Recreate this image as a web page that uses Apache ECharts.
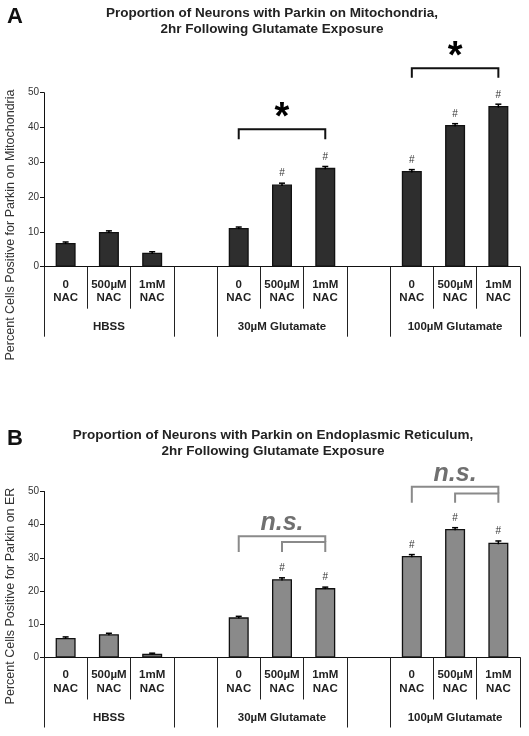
<!DOCTYPE html>
<html><head><meta charset="utf-8">
<script src="https://cdn.jsdelivr.net/npm/echarts/dist/echarts.min.js"></script>
<style>html,body{margin:0;padding:0;background:#fff}#c{width:529px;height:736px}</style>
</head><body><div id="c"></div>
<script>
// ---- data ----
const categories = ['0\nNAC','500µM\nNAC','1mM\nNAC','','0\nNAC','500µM\nNAC','1mM\nNAC','','0\nNAC','500µM\nNAC','1mM\nNAC'];
const groupLabels = ['','HBSS','','','','30µM Glutamate','','','','100µM Glutamate',''];
const groupBoundaryIdx = [0,3,4,7,8];
const yMin = 0, yMax = 50, yStep = 10;

const mitoValues = [6.8, 10.0, 4.0, null, 11.1, 23.6, 28.4, null, 27.5, 40.7, 46.2];
const mitoErrors = [0.3, 0.3, 0.3, null, 0.3, 0.4, 0.4, null, 0.4, 0.4, 0.5];
const mitoHash   = [0, 0, 0, 0, 0, 1, 1, 0, 1, 1, 1];

const erValues = [5.9, 7.0, 1.1, null, 12.1, 23.6, 20.9, null, 30.6, 38.7, 34.6];
const erErrors = [0.3, 0.3, 0.2, null, 0.3, 0.4, 0.3, null, 0.4, 0.4, 0.5];
const erHash   = [0, 0, 0, 0, 0, 1, 1, 0, 1, 1, 1];

// significance: [from, to, bracketY, legEndY]
const mitoStars = [[4, 6, 39.5, 36.6], [8, 10, 57.0, 54.3]];
// n.s.: [outerFrom, innerFrom, innerTo, outerY, innerY, legEndY]
const erNS = [[4, 5, 6, 36.5, 34.8, 31.8], [8, 9, 10, 51.4, 49.4, 46.6]];

const titleA = 'Proportion of Neurons with Parkin on Mitochondria,\n2hr Following Glutamate Exposure';
const titleB = 'Proportion of Neurons with Parkin on Endoplasmic Reticulum,\n2hr Following Glutamate Exposure';
const yNameA = 'Percent Cells Positive for Parkin on Mitochondria';
const yNameB = 'Percent Cells Positive for Parkin on ER';

// ---- chart ----
const FF = "'Liberation Sans', Arial, Helvetica, sans-serif";
const chart = echarts.init(document.getElementById('c'), null, {renderer: 'canvas'});

function xAxesFor(gi) {
  return [
    {
      type: 'category', gridIndex: gi, position: 'bottom', data: categories,
      axisLine: {show: true, onZero: false, lineStyle: {color: '#111', width: 1}},
      axisTick: {show: true, interval: 0, length: 42, lineStyle: {color: '#222', width: 1}},
      axisLabel: {show: true, interval: 0, margin: 11, fontFamily: FF, fontSize: 11.5, fontWeight: 'bold', color: '#222', lineHeight: 13.5},
      splitLine: {show: false}
    },
    {
      type: 'category', gridIndex: gi, position: 'bottom', data: groupLabels,
      axisLine: {show: false},
      axisTick: {show: true, interval: function (i) { return groupBoundaryIdx.indexOf(i) >= 0; }, length: 70, lineStyle: {color: '#222', width: 1}},
      axisLabel: {show: true, interval: 0, margin: 54, fontFamily: FF, fontSize: 11.5, fontWeight: 'bold', color: '#222'},
      splitLine: {show: false}
    }
  ];
}
function yAxisFor(gi) {
  return {
    type: 'value', gridIndex: gi, min: yMin, max: yMax, interval: yStep,
    axisLine: {show: true, lineStyle: {color: '#111', width: 1}},
    axisTick: {show: true, inside: false, length: 4, lineStyle: {color: '#111'}},
    axisLabel: {margin: 5, fontFamily: FF, fontSize: 10, color: '#333'},
    splitLine: {show: false}
  };
}
function barSeries(gi, values, hash, fill) {
  return {
    type: 'bar', xAxisIndex: gi * 2, yAxisIndex: gi, barWidth: 20,
    data: values.map(v => v == null ? '-' : v),
    itemStyle: {color: fill, borderColor: '#111', borderWidth: 1.3},
    label: {show: true, position: 'top', distance: 6, fontFamily: FF, fontSize: 10, color: '#333',
      formatter: p => hash[p.dataIndex] ? '#' : ''},
    emphasis: {disabled: true}, silent: true
  };
}
function errSeries(gi, values, errors) {
  const d = [];
  values.forEach((v, i) => { if (v != null) d.push([i, v, errors[i]]); });
  return {
    type: 'custom', xAxisIndex: gi * 2, yAxisIndex: gi, data: d, silent: true, z: 5,
    encode: {x: 0, y: 1},
    renderItem: function (params, api) {
      const i = api.value(0), v = api.value(1), e = api.value(2);
      const hi = api.coord([i, v + e]), lo = api.coord([i, v - e]);
      const st = {stroke: '#000', lineWidth: 1.5};
      return {type: 'group', children: [
        {type: 'line', shape: {x1: hi[0], y1: hi[1], x2: lo[0], y2: lo[1]}, style: st},
        {type: 'line', shape: {x1: hi[0] - 3, y1: hi[1], x2: hi[0] + 3, y2: hi[1]}, style: st}
      ]};
    }
  };
}
const starSeries = {
  type: 'custom', xAxisIndex: 0, yAxisIndex: 0, clip: false, silent: true, z: 6,
  data: mitoStars.map(s => [s[0], s[2]]), encode: {x: 0, y: 1},
  renderItem: function (params, api) {
    const s = mitoStars[params.dataIndex];
    const aL = api.coord([s[0], s[3]]), a = api.coord([s[0], s[2]]);
    const b = api.coord([s[1], s[2]]), bL = api.coord([s[1], s[3]]);
    const m = api.coord([(s[0] + s[1]) / 2, s[2]]);
    return {type: 'group', children: [
      {type: 'polyline', shape: {points: [aL, a, b, bL]}, style: {stroke: '#111', lineWidth: 2, fill: 'none'}},
      {type: 'text', x: m[0], y: m[1] - 11, style: {text: '*', fontFamily: FF, fontSize: 38, fontWeight: 'bold', fill: '#000', align: 'center', verticalAlign: 'middle'}}
    ]};
  }
};
const nsSeries = {
  type: 'custom', xAxisIndex: 2, yAxisIndex: 1, clip: false, silent: true, z: 6,
  data: erNS.map(s => [s[0], s[3]]), encode: {x: 0, y: 1},
  renderItem: function (params, api) {
    const s = erNS[params.dataIndex];
    const mid = (s[1] + s[2]) / 2;
    const st = {stroke: '#8a8a8a', lineWidth: 2, fill: 'none'};
    const outer = [api.coord([s[0], s[5]]), api.coord([s[0], s[3]]), api.coord([mid, s[3]]), api.coord([mid, s[4]])];
    const inner = [api.coord([s[1], s[5]]), api.coord([s[1], s[4]]), api.coord([s[2], s[4]]), api.coord([s[2], s[5]])];
    const t = api.coord([s[1], s[3]]);
    return {type: 'group', children: [
      {type: 'polyline', shape: {points: outer}, style: st},
      {type: 'polyline', shape: {points: inner}, style: st},
      {type: 'text', x: t[0], y: t[1] - 13, style: {text: 'n.s.', fontFamily: FF, fontSize: 25, fontWeight: 'bold', fontStyle: 'italic', fill: '#707070', align: 'center', verticalAlign: 'middle'}}
    ]};
  }
};

const option = {
  animation: false,
  backgroundColor: '#fff',
  title: [
    {text: 'A', left: 7, top: 6, padding: 0, textStyle: {fontFamily: FF, fontSize: 22, fontWeight: 'bold', color: '#111'}},
    {text: titleA, left: 272, top: 5, padding: 0, textAlign: 'center', textStyle: {fontFamily: FF, fontSize: 13.5, fontWeight: 'bold', color: '#222', lineHeight: 16}},
    {text: 'B', left: 7, top: 428, padding: 0, textStyle: {fontFamily: FF, fontSize: 22, fontWeight: 'bold', color: '#111'}},
    {text: titleB, left: 273, top: 428, padding: 0, textAlign: 'center', textStyle: {fontFamily: FF, fontSize: 13.5, fontWeight: 'bold', color: '#222', lineHeight: 15.5}}
  ],
  grid: [
    {left: 44, top: 92.7, width: 476, height: 174, outerBoundsMode: 'none', containLabel: false},
    {left: 44, top: 491.5, width: 476, height: 166, outerBoundsMode: 'none', containLabel: false}
  ],
  xAxis: xAxesFor(0).concat(xAxesFor(1)),
  yAxis: [yAxisFor(0), yAxisFor(1)],
  graphic: [
    {type: 'text', x: 11, y: 225, rotation: Math.PI / 2, style: {text: yNameA, fontFamily: FF, fontSize: 12.5, fill: '#333', align: 'center', verticalAlign: 'middle'}},
    {type: 'text', x: 11, y: 596, rotation: Math.PI / 2, style: {text: yNameB, fontFamily: FF, fontSize: 12.5, fill: '#333', align: 'center', verticalAlign: 'middle'}}
  ],
  series: [
    barSeries(0, mitoValues, mitoHash, '#2e2e2e'),
    errSeries(0, mitoValues, mitoErrors),
    starSeries,
    barSeries(1, erValues, erHash, '#8a8a8a'),
    errSeries(1, erValues, erErrors),
    nsSeries
  ]
};
chart.setOption(option);
</script>
</body></html>
